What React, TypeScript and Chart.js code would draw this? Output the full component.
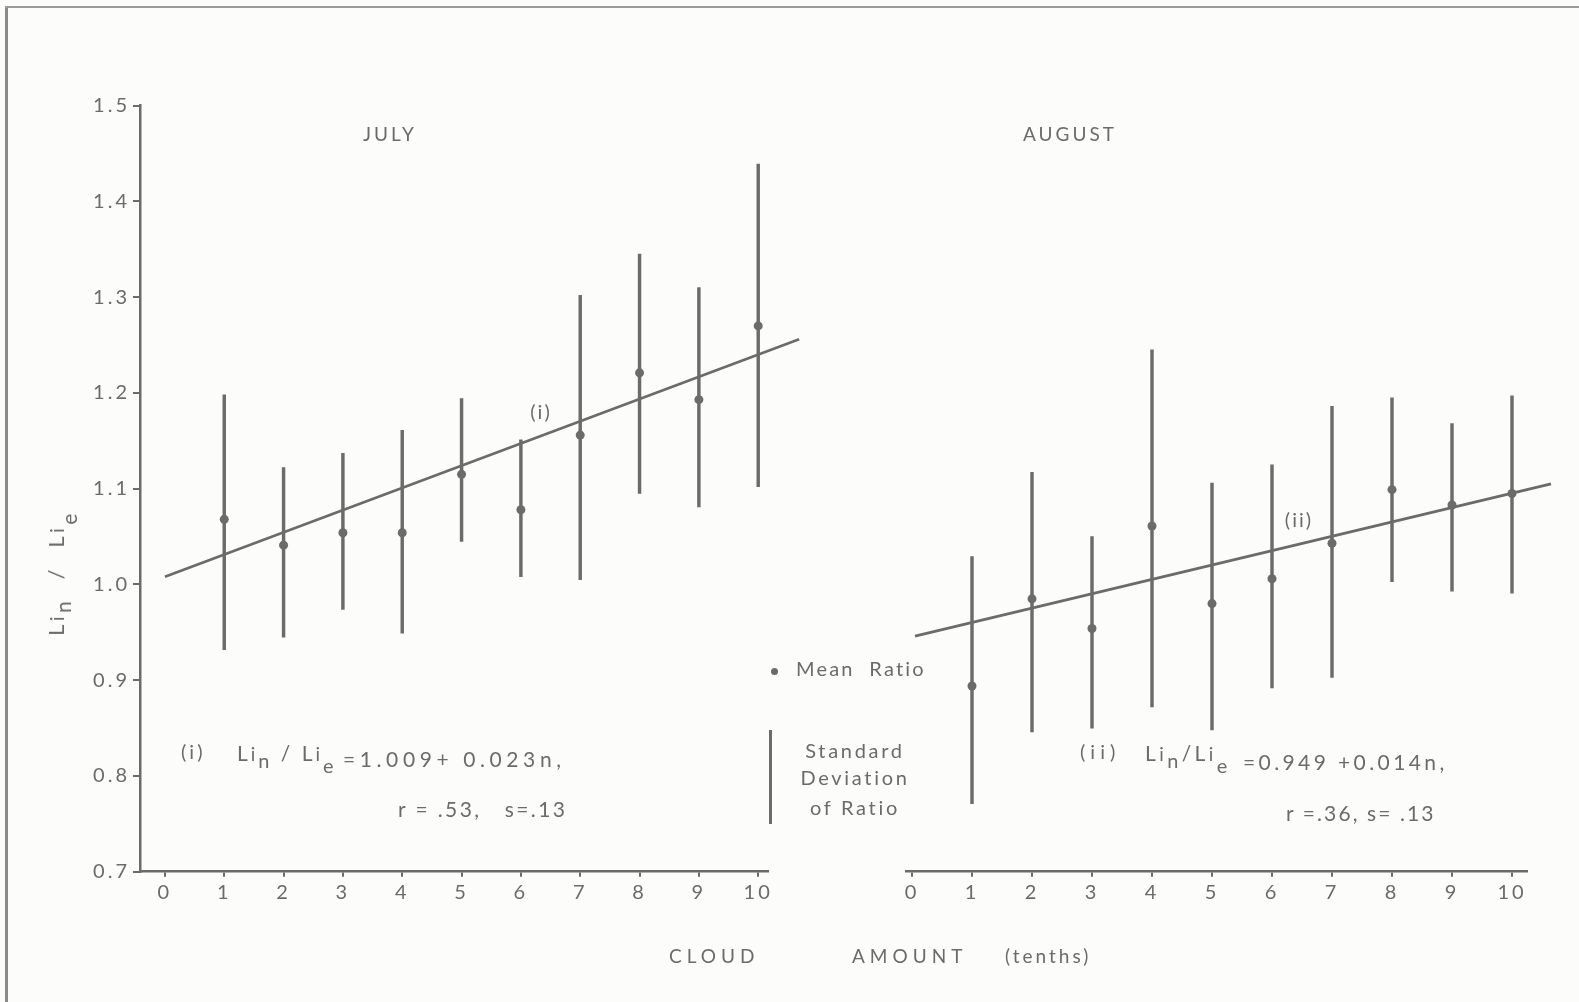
import React, { useEffect, useRef } from "react";
import { Chart, registerables } from "chart.js";

Chart.register(...registerables);

// ---------- data ----------
const cloudAmount = [1, 2, 3, 4, 5, 6, 7, 8, 9, 10];
const xTickValues = [0, 1, 2, 3, 4, 5, 6, 7, 8, 9, 10];
const yTickValues = [0.7, 0.8, 0.9, 1.0, 1.1, 1.2, 1.3, 1.4, 1.5];

const julyMean = [1.068, 1.041, 1.054, 1.054, 1.115, 1.078, 1.156, 1.221, 1.193, 1.27];
const julyLow = [0.932, 0.945, 0.974, 0.949, 1.045, 1.008, 1.005, 1.095, 1.081, 1.102];
const julyHigh = [1.198, 1.122, 1.137, 1.161, 1.194, 1.151, 1.302, 1.345, 1.31, 1.439];
const julyFitX = [0, 10.69];
const julyFitY = [1.008, 1.256];

const augMean = [0.894, 0.985, 0.954, 1.061, 0.98, 1.006, 1.043, 1.099, 1.083, 1.095];
const augLow = [0.771, 0.846, 0.85, 0.872, 0.848, 0.892, 0.903, 1.003, 0.993, 0.991];
const augHigh = [1.029, 1.117, 1.05, 1.245, 1.106, 1.125, 1.186, 1.195, 1.168, 1.197];
const augFitX = [0.05, 10.65];
const augFitY = [0.946, 1.105];

// ---------- styling ----------
const W = 1579;
const H = 1002;
const INK = "#6b6b6b";
const PAPER = "#fcfcfa";
const FONT = "Lato, 'Open Sans', 'DejaVu Sans', sans-serif";

const spacingPlugin = {
  id: "letterSpacing",
  beforeDraw(chart: any) {
    (chart.ctx as any).letterSpacing = "3px";
  },
};

function buildConfig(p: {
  mean: number[];
  low: number[];
  high: number[];
  fitX: number[];
  fitY: number[];
  xMin: number;
  xMax: number;
  showY: boolean;
  padding: { left: number; right: number; top: number; bottom: number };
}): any {
  return {
    type: "bar",
    data: {
      datasets: [
        {
          type: "line",
          data: p.fitX.map((x, i) => ({ x, y: p.fitY[i] })),
          borderColor: INK,
          borderWidth: 2.7,
          pointRadius: 0,
          clip: false,
          order: 2,
        },
        {
          type: "bar",
          data: cloudAmount.map((x, i) => ({ x, y: [p.low[i], p.high[i]] })),
          backgroundColor: INK,
          borderWidth: 0,
          barThickness: 2.8,
          grouped: false,
          order: 1,
        },
        {
          type: "scatter",
          data: cloudAmount.map((x, i) => ({ x, y: p.mean[i] })),
          pointRadius: 4.5,
          pointBackgroundColor: INK,
          pointBorderWidth: 0,
          order: 0,
        },
      ],
    },
    options: {
      animation: false,
      responsive: false,
      events: [],
      layout: { padding: p.padding },
      plugins: {
        legend: { display: false },
        tooltip: { enabled: false },
        title: { display: false },
      },
      scales: {
        x: {
          type: "linear",
          min: p.xMin,
          max: p.xMax,
          offset: false,
          afterBuildTicks: (scale: any) => {
            scale.ticks = xTickValues.map((v) => ({ value: v }));
          },
          afterFit: (scale: any) => {
            scale.height = 130.3;
          },
          grid: {
            offset: false,
            drawOnChartArea: false,
            drawTicks: true,
            tickLength: 5,
            color: INK,
            lineWidth: 2,
          },
          border: { display: true, color: INK, width: 2.5 },
          ticks: {
            color: INK,
            padding: 4,
            maxRotation: 0,
            autoSkip: false,
            font: { family: FONT, size: 20 },
            callback: (v: number) => String(v),
          },
        },
        y: {
          type: "linear",
          display: p.showY,
          min: 0.7,
          max: 1.5,
          afterBuildTicks: (scale: any) => {
            scale.ticks = yTickValues.map((v) => ({ value: v }));
          },
          afterFit: (scale: any) => {
            scale.width = p.showY ? 140 : 0;
          },
          grid: {
            drawOnChartArea: false,
            drawTicks: true,
            tickLength: 7,
            color: INK,
            lineWidth: 2,
          },
          border: { display: true, color: INK, width: 2.5 },
          ticks: {
            color: INK,
            padding: 3,
            autoSkip: false,
            font: { family: FONT, size: 20 },
            callback: (v: number) => Number(v).toFixed(1),
          },
        },
      },
    },
    plugins: [spacingPlugin],
  };
}

const textBase: React.CSSProperties = {
  position: "absolute",
  color: INK,
  fontFamily: FONT,
  fontSize: 19,
  whiteSpace: "pre",
  lineHeight: 1,
  letterSpacing: "2px",
};

function T(props: {
  x: number;
  y: number;
  center?: boolean;
  size?: number;
  ls?: number;
  children: React.ReactNode;
}) {
  const { x, y, center, size, ls, children } = props;
  return (
    <div
      style={{
        ...textBase,
        left: x,
        top: y,
        fontSize: size ?? 19,
        letterSpacing: ls !== undefined ? `${ls}px` : "2px",
        transform: center ? "translate(-50%, -50%)" : "translateY(-50%)",
      }}
    >
      {children}
    </div>
  );
}

function Ratio(props: { gap?: string }) {
  const sub: React.CSSProperties = { fontSize: "0.95em", position: "relative", top: "0.35em" };
  const sub2: React.CSSProperties = { fontSize: "0.95em", position: "relative", top: "0.6em" };
  return (
    <span>
      L<span style={{ fontSize: "0.9em" }}>i</span>
      <span style={sub}>n</span>
      {props.gap ?? " / "}L<span style={{ fontSize: "0.9em" }}>i</span>
      <span style={sub2}>e</span>
    </span>
  );
}

export default function App() {
  const leftRef = useRef<HTMLCanvasElement | null>(null);
  const rightRef = useRef<HTMLCanvasElement | null>(null);

  useEffect(() => {
    const charts: Chart[] = [];
    if (leftRef.current) {
      charts.push(
        new Chart(
          leftRef.current,
          buildConfig({
            mean: julyMean,
            low: julyLow,
            high: julyHigh,
            fitX: julyFitX,
            fitY: julyFitY,
            xMin: -0.42,
            xMax: 10.16,
            showY: true,
            padding: { left: 0, right: W - 767.7, top: 105.7, bottom: 0 },
          })
        )
      );
    }
    if (rightRef.current) {
      charts.push(
        new Chart(
          rightRef.current,
          buildConfig({
            mean: augMean,
            low: augLow,
            high: augHigh,
            fitX: augFitX,
            fitY: augFitY,
            xMin: -0.1,
            xMax: 10.25,
            showY: false,
            padding: { left: 906, right: W - 1527, top: 105.7, bottom: 0 },
          })
        )
      );
    }
    return () => charts.forEach((c) => c.destroy());
  }, []);

  const canvasStyle: React.CSSProperties = {
    position: "absolute",
    left: 0,
    top: 0,
    width: W,
    height: H,
  };

  return (
    <div
      style={{
        position: "absolute",
        left: 0,
        top: 0,
        width: W,
        height: H,
        background: PAPER,
        overflow: "hidden",
      }}
    >
      {/* frame of the scanned page */}
      <div style={{ position: "absolute", left: 5, top: 6, width: 2.5, height: H, background: "#8a8a8a" }} />
      <div style={{ position: "absolute", left: 5, top: 6, width: W, height: 2, background: "#9a9a9a" }} />

      <canvas ref={leftRef} width={W} height={H} style={canvasStyle} />
      <canvas ref={rightRef} width={W} height={H} style={canvasStyle} />

      {/* panel titles */}
      <T x={390} y={133} center ls={3}>JULY</T>
      <T x={1070} y={133} center ls={3}>AUGUST</T>

      {/* y axis title */}
      <div
        style={{
          ...textBase,
          left: 56,
          top: 573,
          fontSize: 22,
          letterSpacing: "3.5px",
          transform: "translate(-50%, -50%) rotate(-90deg)",
        }}
      >
        <Ratio gap="  /  " />
      </div>

      {/* line labels */}
      <T x={541} y={411} center size={20}>(i)</T>
      <T x={1299} y={519} center size={20}>(ii)</T>

      {/* July equation */}
      <T x={181} y={751} size={20} ls={3}>(i)</T>
      <T x={237} y={753} size={21} ls={3}>
        <Ratio />
      </T>
      <T x={343} y={758} size={21} ls={4.6}>=1.009+ 0.023n,</T>
      <T x={398} y={808} size={21} ls={2.4}>r = .53,   s=.13</T>

      {/* August equation */}
      <T x={1080} y={751} size={20} ls={5}>(ii)</T>
      <T x={1145} y={753} size={21} ls={3.4}>
        <Ratio gap="/" />
      </T>
      <T x={1243} y={761} size={21} ls={3.4}>=0.949 +0.014n,</T>
      <T x={1286} y={812} size={21} ls={2.1}>r =.36, s= .13</T>

      {/* legend */}
      <div
        style={{
          position: "absolute",
          left: 770.5,
          top: 667.5,
          width: 7,
          height: 7,
          borderRadius: "50%",
          background: INK,
        }}
      />
      <T x={796} y={668} size={20} ls={2.2}>Mean  Ratio</T>
      <div style={{ position: "absolute", left: 769, top: 730, width: 2.8, height: 94, background: INK }} />
      <T x={855} y={750} center size={20} ls={2.7}>Standard</T>
      <T x={855} y={777} center size={20} ls={2.7}>Deviation</T>
      <T x={855} y={807} center size={20} ls={2.7}>of Ratio</T>

      {/* x axis title */}
      <T x={669} y={955} ls={5}>CLOUD</T>
      <T x={852} y={955} ls={5}>AMOUNT</T>
      <T x={1005} y={955} ls={3}>(tenths)</T>
    </div>
  );
}
